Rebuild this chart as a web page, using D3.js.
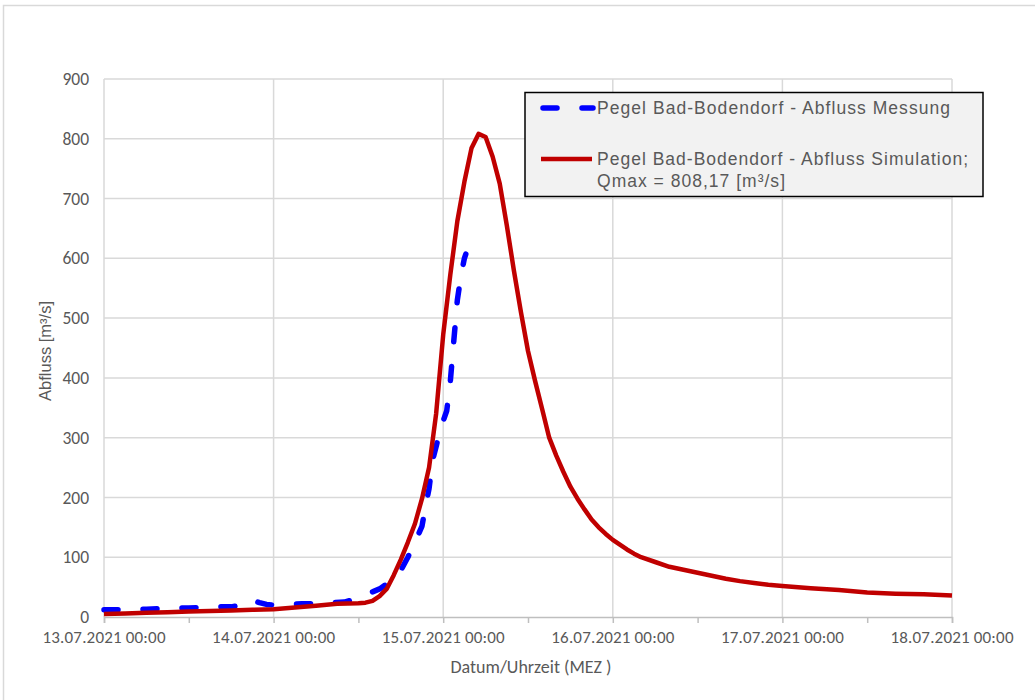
<!DOCTYPE html>
<html>
<head>
<meta charset="utf-8">
<script src="https://cdn.jsdelivr.net/npm/d3@7"></script>
<style>
  html, body { margin: 0; padding: 0; background: #fff; }
  svg { display: block; }
</style>
</head>
<body>
<svg id="chart" width="1035" height="700"></svg>
<script>
// ---- Data (hours after 13.07.2021 00:00 MEZ, discharge in m³/s) ----
const simHours = [0, 3, 6, 9, 12, 15, 18, 21, 24, 27, 30, 33, 36, 37, 38, 39, 40, 41, 42, 43, 44, 45, 46, 47, 48, 49, 50, 51, 52, 53, 54, 55, 56, 57, 58, 59, 60, 61, 62, 63, 64, 65, 66, 67, 68, 69, 70, 71, 72, 73, 74, 75, 76, 78, 80, 82, 84, 86, 88, 90, 92, 94, 96, 100, 104, 108, 112, 116, 120];
const simValues = [5, 6, 7, 8, 9, 10, 11, 12, 13, 16, 19, 22, 23, 24, 27, 35, 47, 70, 96, 125, 156, 198, 250, 340, 472, 572, 662, 728, 784, 808.17, 803, 770, 725, 655, 580, 510, 445, 395, 348, 300, 270, 243, 218, 198, 180, 163, 150, 139, 129, 121, 113, 106, 100, 92, 84, 79, 74, 69, 64, 60, 57, 54, 52, 48, 45, 41, 39, 38, 36];

const measHours = [0, 2, 4, 6, 8, 10, 12, 14, 16, 18, 19, 20, 20.5, 21, 22, 23, 24, 26, 28, 30, 32, 34, 35, 36, 37, 38, 39, 40, 41, 42, 43, 44, 45, 45.5, 46, 46.5, 47, 47.5, 48, 48.5, 49, 49.5, 50, 50.5, 51, 51.2];
const measValues = [12, 12, 13, 13, 14, 15, 15, 16, 17, 17, 19, 25, 29, 28, 24, 21, 20, 21, 22, 22, 24, 25, 28, 35, 39, 42, 47, 55, 63, 78, 100, 125, 152, 185, 215, 262, 285, 310, 328, 345, 393, 462, 530, 570, 600, 607];

const yTicks = [0, 100, 200, 300, 400, 500, 600, 700, 800, 900];
const dayTicks = [0, 24, 48, 72, 96, 120];
const minorTicks = [0, 12, 24, 36, 48, 60, 72, 84, 96, 108, 120];
const startDate = Date.UTC(2021, 6, 13, 0, 0);

const legendLabels = [
  ["Pegel Bad-Bodendorf - Abfluss Messung"],
  ["Pegel Bad-Bodendorf - Abfluss Simulation;", "Qmax = 808,17 [m³/s]"]
];
const xTitle = "Datum/Uhrzeit (MEZ )";
const yTitle = "Abfluss [m³/s]";

// ---- Drawing ----
const toDate = h => new Date(startDate + h * 3600 * 1000);
const svg = d3.select("#chart");

// outer frame
svg.append("rect")
  .attr("x", 3.5).attr("y", 5.5).attr("width", 1200).attr("height", 800)
  .attr("fill", "#fff").attr("stroke", "#d9d9d9").attr("stroke-width", 1.5);

const x = d3.scaleTime().domain([toDate(0), toDate(120)]).range([104, 952]);
const y = d3.scaleLinear().domain([0, 900]).range([617, 79]);
const fmt = d3.utcFormat("%d.%m.%Y %H:%M");

const grid = svg.append("g");
// horizontal gridlines
grid.selectAll("line.h").data(yTicks.filter(d => d > 0)).join("line")
  .attr("x1", x.range()[0]).attr("x2", x.range()[1])
  .attr("y1", d => y(d)).attr("y2", d => y(d))
  .attr("stroke", "#d9d9d9").attr("stroke-width", 1.5);
// vertical gridlines
grid.selectAll("line.v").data(dayTicks).join("line")
  .attr("x1", d => x(toDate(d))).attr("x2", d => x(toDate(d)))
  .attr("y1", y(0)).attr("y2", y(900))
  .attr("stroke", "#d9d9d9").attr("stroke-width", 1.5);

// x axis
const xAxis = d3.axisBottom(x)
  .tickValues(minorTicks.map(toDate))
  .tickSize(6)
  .tickFormat(() => "");
const gx = svg.append("g").attr("transform", `translate(0,${y(0)})`).call(xAxis);
gx.select(".domain").attr("stroke", "#bfbfbf").attr("stroke-width", 1.5);
gx.selectAll(".tick line").attr("stroke", "#bfbfbf").attr("stroke-width", 1.5);

svg.append("g").selectAll("text").data(dayTicks).join("text")
  .attr("x", d => x(toDate(d))).attr("y", 643)
  .attr("text-anchor", "middle")
  .attr("font-family", "Carlito, 'Liberation Sans Narrow', 'Arial Narrow', sans-serif")
  .attr("font-size", 17)
  .attr("textLength", 123).attr("lengthAdjust", "spacing")
  .attr("fill", "#595959")
  .text(d => fmt(toDate(d)));

// y axis labels
const yAxis = d3.axisLeft(y).tickValues(yTicks).tickSize(0).tickPadding(15);
const gy = svg.append("g").attr("transform", `translate(${x.range()[0]},0)`).call(yAxis);
gy.select(".domain").remove();
gy.selectAll("text")
  .attr("font-family", "Carlito, 'Liberation Sans Narrow', 'Arial Narrow', sans-serif")
  .attr("font-size", 17.5).attr("fill", "#595959");

// axis titles
svg.append("text")
  .attr("x", 531).attr("y", 673)
  .attr("text-anchor", "middle")
  .attr("font-family", "Carlito, 'Liberation Sans Narrow', 'Arial Narrow', sans-serif")
  .attr("font-size", 18).attr("fill", "#595959")
  .text(xTitle);
svg.append("text")
  .attr("transform", "translate(51,351) rotate(-90)")
  .attr("text-anchor", "middle")
  .attr("font-family", "'Liberation Sans', Arial, sans-serif")
  .attr("font-size", 16.5).attr("fill", "#595959")
  .text(yTitle);

// series
const line = d3.line().x(d => x(toDate(d[0]))).y(d => y(d[1]));
const simData = simHours.map((h, i) => [h, simValues[i]]);
const measData = measHours.map((h, i) => [h, measValues[i]]);

svg.append("path").datum(measData)
  .attr("d", line).attr("fill", "none")
  .attr("stroke", "#0000ff").attr("stroke-width", 5.5)
  .attr("stroke-dasharray", "14,25").attr("stroke-linecap", "round")
  .attr("stroke-linejoin", "round");

svg.append("path").datum(simData)
  .attr("d", line).attr("fill", "none")
  .attr("stroke", "#c00000").attr("stroke-width", 4.5)
  .attr("stroke-linejoin", "round");

// legend
const lg = svg.append("g");
lg.append("rect")
  .attr("x", 525).attr("y", 92.5).attr("width", 458).attr("height", 104)
  .attr("fill", "#f2f2f2").attr("stroke", "#000").attr("stroke-width", 1.5);
lg.append("line")
  .attr("x1", 543).attr("x2", 593).attr("y1", 108).attr("y2", 108)
  .attr("stroke", "#0000ff").attr("stroke-width", 5.5)
  .attr("stroke-dasharray", "14,25").attr("stroke-linecap", "round");
lg.append("line")
  .attr("x1", 541).attr("x2", 592).attr("y1", 159).attr("y2", 159)
  .attr("stroke", "#c00000").attr("stroke-width", 4.5);

const legendFont = "'Liberation Sans', Arial, sans-serif";
const legendRows = [
  {y: 114, text: legendLabels[0][0], len: 353},
  {y: 165, text: legendLabels[1][0], len: 371},
  {y: 187, text: legendLabels[1][1], len: 188}
];
lg.selectAll("text").data(legendRows).join("text")
  .attr("x", 597).attr("y", d => d.y)
  .attr("font-family", legendFont).attr("font-size", 17.5)
  .attr("fill", "#595959")
  .attr("textLength", d => d.len).attr("lengthAdjust", "spacing")
  .text(d => d.text);
</script>
</body>
</html>
